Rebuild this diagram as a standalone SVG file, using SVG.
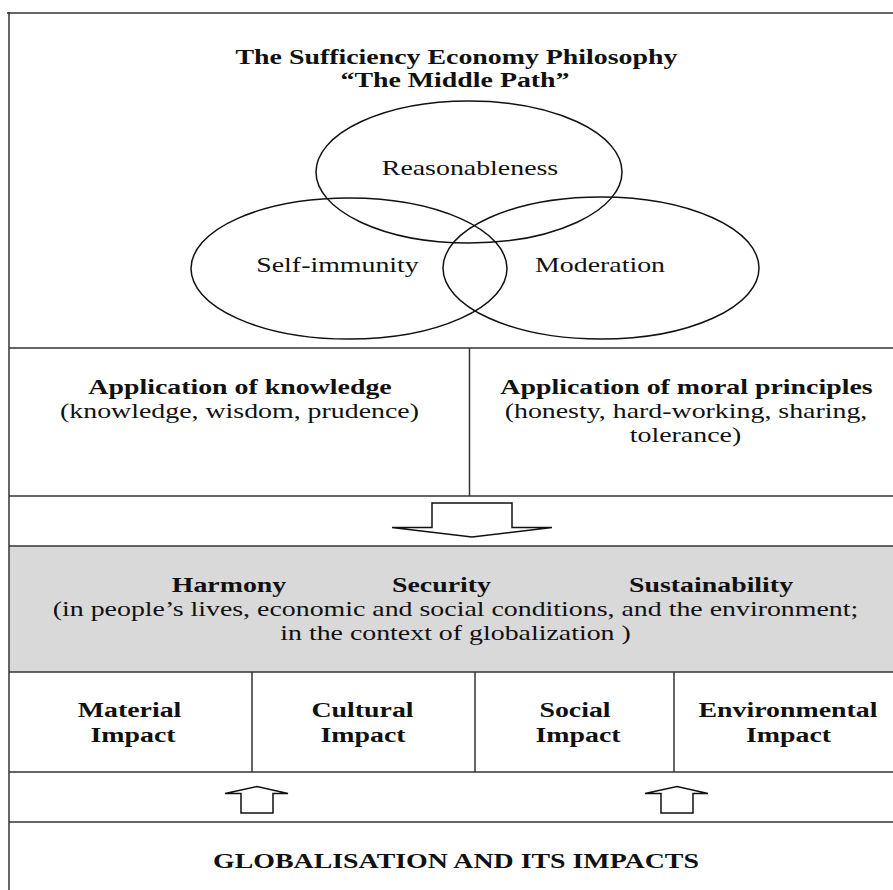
<svg xmlns="http://www.w3.org/2000/svg" width="893" height="890" viewBox="0 0 893 890">
  <defs>
    <style>
      .t { font-family: "Liberation Serif", "Times New Roman", serif; font-size: 20.5px; fill: #111; text-anchor: middle; }
      .b { font-weight: bold; }
      .rule { stroke: #333; stroke-width: 1.5; fill: none; }
      .ring { stroke: #111; stroke-width: 1.5; fill: none; }
      .block { stroke: #111; stroke-width: 1.5; fill: #fff; stroke-linejoin: miter; }
    </style>
  </defs>

  <rect x="0" y="0" width="893" height="890" fill="#fff"/>

  <!-- table frame and row rules -->
  <g id="frame">
    <rect x="9" y="546" width="884" height="126" fill="#d9d9d9"/>
    <line class="rule" x1="7" y1="13" x2="893" y2="13"/>
    <line class="rule" x1="9" y1="12" x2="9" y2="890"/>
    <line class="rule" x1="9" y1="348" x2="893" y2="348"/>
    <line class="rule" x1="9" y1="496" x2="893" y2="496"/>
    <line class="rule" x1="9" y1="546" x2="893" y2="546"/>
    <line class="rule" x1="9" y1="672" x2="893" y2="672"/>
    <line class="rule" x1="9" y1="772" x2="893" y2="772"/>
    <line class="rule" x1="9" y1="822" x2="893" y2="822"/>
    <line class="rule" x1="469.5" y1="348" x2="469.5" y2="496"/>
    <line class="rule" x1="252" y1="672" x2="252" y2="772"/>
    <line class="rule" x1="475" y1="672" x2="475" y2="772"/>
    <line class="rule" x1="674" y1="672" x2="674" y2="772"/>
  </g>

  <!-- heading -->
  <g id="title">
    <text class="t b" transform="translate(456.5,64) scale(1.36,1)">The Sufficiency Economy Philosophy</text>
    <text class="t b" transform="translate(455,87) scale(1.36,1)">“The Middle Path”</text>
  </g>

  <!-- three overlapping principles -->
  <g id="reasonableness">
    <ellipse class="ring" cx="469" cy="172" rx="153" ry="71"/>
    <text class="t" transform="translate(470,175) scale(1.36,1)">Reasonableness</text>
  </g>
  <g id="self-immunity">
    <ellipse class="ring" cx="349" cy="268.5" rx="158" ry="70.5"/>
    <text class="t" transform="translate(337.5,272) scale(1.36,1)">Self-immunity</text>
  </g>
  <g id="moderation">
    <ellipse class="ring" cx="601" cy="268" rx="158" ry="71"/>
    <text class="t" transform="translate(600,272) scale(1.36,1)">Moderation</text>
  </g>

  <!-- conditions -->
  <g id="knowledge">
    <text class="t b" transform="translate(240,394) scale(1.36,1)">Application of knowledge</text>
    <text class="t" transform="translate(239.5,418) scale(1.36,1)">(knowledge, wisdom, prudence)</text>
  </g>
  <g id="morality">
    <text class="t b" transform="translate(686.5,394) scale(1.36,1)">Application of moral principles</text>
    <text class="t" transform="translate(686,418) scale(1.36,1)">(honesty, hard-working, sharing,</text>
    <text class="t" transform="translate(685.5,442) scale(1.36,1)">tolerance)</text>
  </g>

  <!-- outcomes band -->
  <g id="outcomes">
    <text class="t b" transform="translate(229,591.5) scale(1.36,1)">Harmony</text>
    <text class="t b" transform="translate(441.5,591.5) scale(1.36,1)">Security</text>
    <text class="t b" transform="translate(711,591.5) scale(1.36,1)">Sustainability</text>
    <text class="t" transform="translate(455.5,616) scale(1.36,1)">(in people’s lives, economic and social conditions, and the environment;</text>
    <text class="t" transform="translate(455.5,640) scale(1.36,1)">in the context of globalization )</text>
  </g>

  <!-- impacts row -->
  <g id="material">
    <text class="t b" transform="translate(129.5,717) scale(1.36,1)">Material</text>
    <text class="t b" transform="translate(133,742) scale(1.36,1)">Impact</text>
  </g>
  <g id="cultural">
    <text class="t b" transform="translate(362.5,717) scale(1.36,1)">Cultural</text>
    <text class="t b" transform="translate(363,742) scale(1.36,1)">Impact</text>
  </g>
  <g id="social">
    <text class="t b" transform="translate(575,717) scale(1.36,1)">Social</text>
    <text class="t b" transform="translate(578,742) scale(1.36,1)">Impact</text>
  </g>
  <g id="environmental">
    <text class="t b" transform="translate(788,717) scale(1.36,1)">Environmental</text>
    <text class="t b" transform="translate(788.5,742) scale(1.36,1)">Impact</text>
  </g>

  <g id="globalisation">
    <text class="t b" transform="translate(456,868) scale(1.36,1)">GLOBALISATION AND ITS IMPACTS</text>
  </g>

  <!-- block arrows between rows -->
  <g id="connectors">
    <polygon class="block" points="432,503 512,503 512,527.5 552,527.5 472,537 392,527.5 432,527.5"/>
    <polygon class="block" points="241,813 273,813 273,793.5 288,793.5 257,786.5 225,793.5 241,793.5"/>
    <polygon class="block" points="661,813 693,813 693,793.5 708,793.5 677,786.5 645,793.5 661,793.5"/>
  </g>
</svg>
